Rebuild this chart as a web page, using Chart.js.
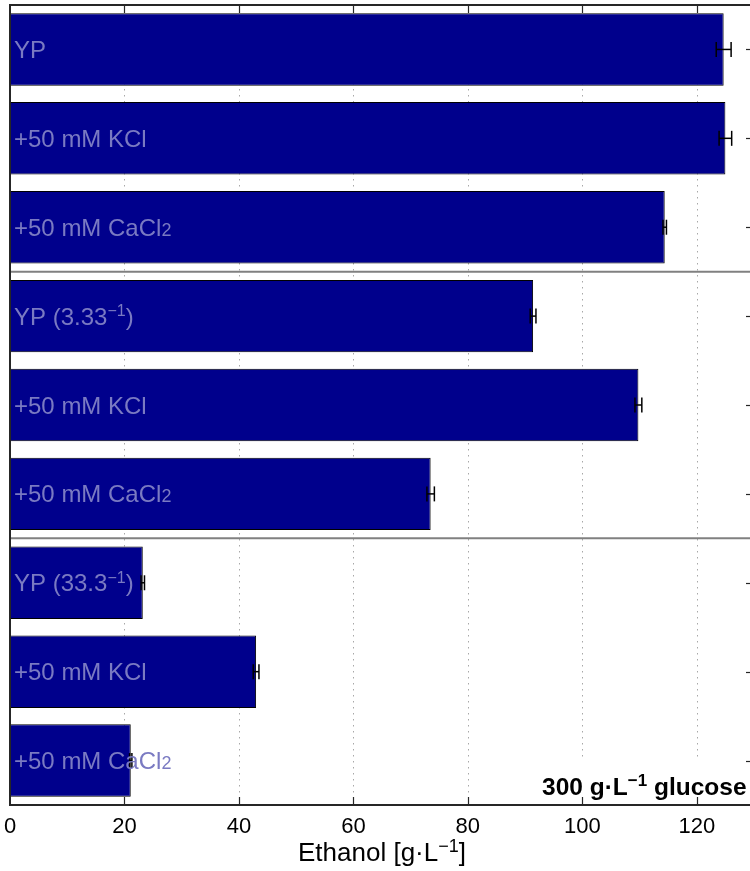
<!DOCTYPE html>
<html>
<head>
<meta charset="utf-8">
<script src="https://cdn.jsdelivr.net/npm/chart.js@4.4.0/dist/chart.umd.min.js"></script>
<style>
html, body { margin: 0; padding: 0; background: #fff; overflow: hidden; }
#wrap { width: 750px; height: 871px; overflow: hidden; }
canvas { display: block; }
</style>
</head>
<body>
<div id="wrap"><canvas id="ethanolChart" width="760" height="871"></canvas></div>
<script>
// ^{..} is drawn raised and small, _{..} small on the baseline
const categories = ['YP', '+50 mM KCl', '+50 mM CaCl_{2}',
                    'YP (3.33^{−1})', '+50 mM KCl', '+50 mM CaCl_{2}',
                    'YP (33.3^{−1})', '+50 mM KCl', '+50 mM CaCl_{2}'];
const ethanol = [124.7, 125.0, 114.4, 91.4, 109.8, 73.5, 23.2, 43.0, 21.1];
const ethanolErr = [1.3, 1.1, 0.3, 0.5, 0.6, 0.65, 0.3, 0.5, 0.2];
const xTicks = [0, 20, 40, 60, 80, 100, 120];
const groupBreaks = [3, 6];
const axisTitle = 'Ethanol [g·L^{−1}]';
const noteText = '300 g·L^{−1} glucose';

const FONT = '"Liberation Sans", Arial, Helvetica, sans-serif';

function richParts(str) {
    return str.split(/(\^\{[^}]*\}|_\{[^}]*\})/).filter(Boolean).map(p => {
        if (p.startsWith('^{')) return { t: p.slice(2, -1), kind: 'sup' };
        if (p.startsWith('_{')) return { t: p.slice(2, -1), kind: 'sub' };
        return { t: p, kind: 'normal' };
    });
}

function drawRich(ctx, str, x, y, size, opts) {
    const weight = opts.weight || 'normal';
    const parts = richParts(str);
    const fontFor = k => {
        const s = k === 'normal' ? size : Math.round(size * (k === 'sup' ? 0.68 : 0.75));
        return `${weight} ${s}px ${FONT}`;
    };
    let w = 0;
    parts.forEach(p => {
        ctx.font = fontFor(p.kind);
        p.w = ctx.measureText(p.t).width;
        w += p.w;
    });
    let cx = opts.align === 'center' ? x - w / 2 : x;
    ctx.fillStyle = opts.color;
    ctx.textAlign = 'left';
    ctx.textBaseline = 'alphabetic';
    parts.forEach(p => {
        ctx.font = fontFor(p.kind);
        const dy = p.kind === 'sup' ? -size * 0.36 : 0;
        ctx.fillText(p.t, cx, y + dy);
        cx += p.w;
    });
}

function hline(ctx, x1, x2, y) {
    ctx.beginPath(); ctx.moveTo(x1, y); ctx.lineTo(x2, y); ctx.stroke();
}
function vline(ctx, x, y1, y2) {
    ctx.beginPath(); ctx.moveTo(x, y1); ctx.lineTo(x, y2); ctx.stroke();
}

const framePlugin = {
    id: 'frame',
    beforeDatasetsDraw(chart) {
        const { ctx, chartArea: a, scales: { x } } = chart;
        ctx.save();
        ctx.strokeStyle = '#a8a8a8';
        ctx.lineWidth = 1;
        ctx.setLineDash([1.5, 4.5]);
        xTicks.slice(1).forEach(v => {
            const px = Math.round(x.getPixelForValue(v)) + 0.5;
            vline(ctx, px, a.top, a.bottom);
        });
        ctx.restore();
    },
    afterDatasetsDraw(chart) {
        const { ctx, scales: { x, y } } = chart;
        ctx.save();
        // error bars
        ctx.strokeStyle = '#000';
        ctx.lineWidth = 1.5;
        ethanol.forEach((v, i) => {
            const py = y.getPixelForValue(i);
            const lo = x.getPixelForValue(v - ethanolErr[i]);
            const hi = x.getPixelForValue(v + ethanolErr[i]);
            hline(ctx, lo, hi, py);
            vline(ctx, lo, py - 7.5, py + 7.5);
            vline(ctx, hi, py - 7.5, py + 7.5);
        });
        // labels inside the bars
        categories.forEach((c, i) => {
            const py = y.getPixelForValue(i);
            drawRich(ctx, c, x.getPixelForValue(0) + 4, py + 8.5, 24, { color: '#7a7ac2' });
        });
        ctx.restore();
    },
    afterDraw(chart) {
        const { ctx, chartArea: a, scales: { x, y } } = chart;
        ctx.save();
        // group separators
        ctx.strokeStyle = '#808080';
        ctx.lineWidth = 2;
        groupBreaks.forEach(k => {
            const py = (y.getPixelForValue(k - 1) + y.getPixelForValue(k)) / 2;
            hline(ctx, a.left, a.right, py);
        });
        // note box in the lower right corner
        ctx.fillStyle = '#fff';
        ctx.fillRect(a.right - 216, a.bottom - 48, 216, 48);
        drawRich(ctx, noteText, a.right - 212, a.bottom - 10, 24.5, { color: '#000', weight: 'bold' });
        // axes box
        ctx.strokeStyle = '#262626';
        ctx.lineWidth = 2;
        ctx.strokeRect(a.left, a.top, a.right - a.left, a.bottom - a.top);
        // inward ticks, top and bottom
        ctx.lineWidth = 1.2;
        xTicks.slice(1).forEach(v => {
            const px = Math.round(x.getPixelForValue(v)) + 0.5;
            vline(ctx, px, a.top, a.top + 8);
            vline(ctx, px, a.bottom, a.bottom - 8);
        });
        // inward ticks on the right at each bar
        categories.forEach((c, i) => {
            const py = Math.round(y.getPixelForValue(i)) + 0.5;
            hline(ctx, a.right - 8, a.right, py);
        });
        // axis title
        drawRich(ctx, axisTitle, (a.left + a.right) / 2, 861, 26, { color: '#000', align: 'center' });
        ctx.restore();
    }
};

const ctx = document.getElementById('ethanolChart').getContext('2d');
new Chart(ctx, {
    type: 'bar',
    data: {
        labels: categories,
        datasets: [{
            data: ethanol,
            backgroundColor: '#00008c',
            borderColor: '#000',
            borderWidth: 1,
            barPercentage: 0.815,
            categoryPercentage: 1
        }]
    },
    options: {
        indexAxis: 'y',
        responsive: false,
        animation: false,
        devicePixelRatio: 1,
        layout: { padding: { top: 5, right: 6, left: 0, bottom: 0 } },
        plugins: {
            legend: { display: false },
            tooltip: { enabled: false }
        },
        scales: {
            x: {
                min: 0,
                max: 130,
                grid: { display: false },
                border: { display: false },
                ticks: {
                    stepSize: 20,
                    includeBounds: false,
                    color: '#000',
                    font: { family: FONT, size: 22 },
                    padding: 1,
                    maxRotation: 0
                },
                afterFit: s => {
                    s.height = 66;
                    s.paddingLeft = 0;
                    s.paddingRight = 0;
                }
            },
            y: {
                grid: { display: false },
                border: { display: false },
                ticks: { display: false },
                afterFit: s => { s.width = 10; }
            }
        }
    },
    plugins: [framePlugin]
});
</script>
</body>
</html>
